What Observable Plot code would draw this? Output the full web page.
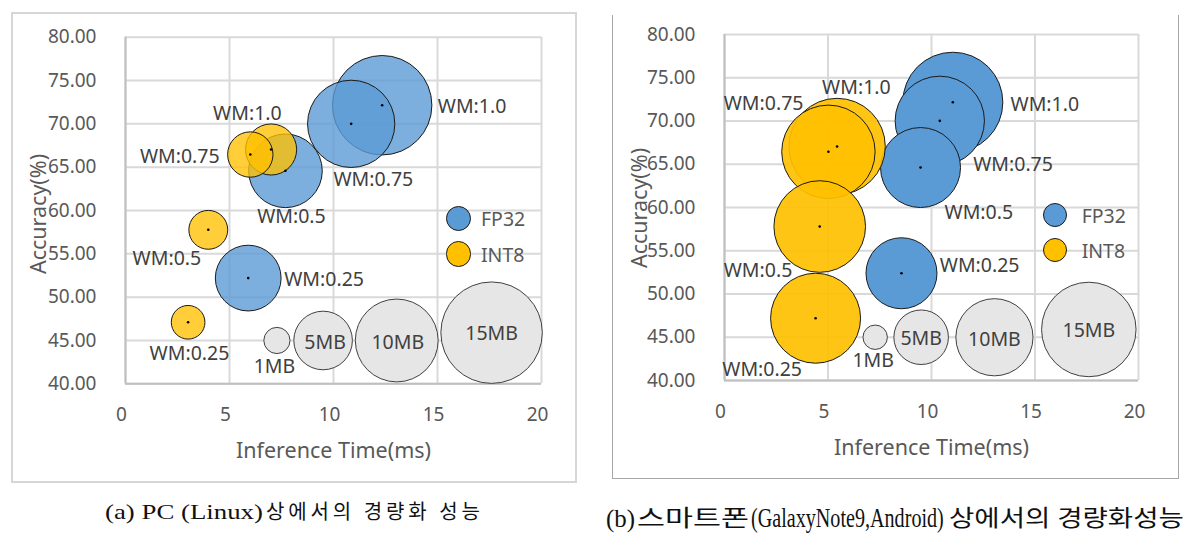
<!DOCTYPE html>
<html><head><meta charset="utf-8">
<script src="https://cdn.jsdelivr.net/npm/d3@7"></script>
<script src="https://cdn.jsdelivr.net/npm/@observablehq/plot@0.6"></script>
<style>
html,body{margin:0;padding:0;background:#fff;}
#wrap{position:relative;width:1194px;height:538px;overflow:hidden;font-family:"Noto Sans",sans-serif;}
.abs{position:absolute;}
.box{position:absolute;box-sizing:border-box;}
.leg{position:absolute;display:flex;align-items:center;font-size:19.5px;color:#595959;white-space:nowrap;}
.leg span.c{display:inline-block;border-radius:50%;box-sizing:border-box;border:1px solid #1a1a1a;}
</style></head><body><div id="wrap"></div>
<script>
// ---------- data ----------
const variants = ["WM:1.0", "WM:0.75", "WM:0.5", "WM:0.25"];
// (a) PC (Linux)
const pcFp32Time = [12.34, 10.85, 7.69, 5.90];
const pcFp32Acc  = [72.15, 70.00, 64.58, 52.20];
const pcFp32Size = [14.4, 11.1, 7.9, 6.3];
const pcInt8Time = [7.00, 6.00, 3.98, 3.01];
const pcInt8Acc  = [67.04, 66.46, 57.77, 47.10];
const pcInt8Size = [3.8, 3.0, 2.2, 1.65];
// (b) Smartphone (GalaxyNote9, Android)
const phoneFp32Time = [11.03, 10.40, 9.47, 8.55];
const phoneFp32Acc  = [72.17, 70.02, 64.62, 52.40];
const phoneFp32Size = [16.8, 13.4, 10.75, 8.47];
const phoneInt8Time = [5.44, 5.02, 4.60, 4.40];
const phoneInt8Acc  = [67.05, 66.44, 57.80, 47.20];
const phoneInt8Size = [15.6, 14.65, 14.1, 13.6];
// size reference bubbles
const refLabels = ["1MB", "5MB", "10MB", "15MB"];
const refTime   = [7.28, 9.50, 13.04, 17.60];
const refAcc    = [45, 45, 45, 45.9];
const refSize   = [1, 5, 10, 15];
// axes
const xTicks = [0, 5, 10, 15, 20];
const yTicks = [40, 45, 50, 55, 60, 65, 70, 75, 80];
const seriesNames = ["FP32", "INT8"];
const xTitle = "Inference Time(ms)";
const yTitle = "Accuracy(%)";
const captionParts = [
  ["(a) PC (Linux)", "상에서의  경량화  성능"],
  ["(b)", "스마트폰", "(GalaxyNote9,Android)", "상에서의  경량화성능"]
];

// ---------- layout / style ----------
const BLUE = "#5B9BD5", GOLD = "#FFC000", GREY = "#E7E6E6";
const layouts = [
  {left: 0, mL: 125, mR: 49, mT: 36.7, mB: 106.7, k: 13.1, blueOp: 0.8, goldOp: 0.78,
   fpOff: [[55.6, 2], [-17.7, 56], [-28.3, 46], [36, 2]],
   inOff: [[-58, -35.7], [-110.4, 2.7], [-75.7, 28.6], [-38.5, 31.8]],
   refOff: [[-2.5, 26.7], [2, 2], [1, 2], [0, 1]],
   yTitle: {x: 38.5, y: 214},
   box: {left: 11, top: 12, width: 566, height: 471, border: "2.5px solid #d6d6d6"},
   legend: {x: 458.7, y: [218.3, 254], r: 12.7, tx: 481},
   caption: {y: 512, size: [20, 20], spans: [[105, 263, "scale"], [266, 480, "spacing"]]}},
  {left: 600, mL: 124, mR: 52, mT: 34, mB: 110, k: 12.2, blueOp: 1, goldOp: 0.92,
   fpOff: [[57.7, 2.3], [33.4, 43.7], [24, 45.7], [38.3, -7.7]],
   inOff: [[-15, -59], [-104.7, -48], [-96, 44.7], [-93.3, 51.6]],
   refOff: [[-2, 23.3], [0, 1.6], [0, 2], [0, 1]],
   yTitle: {x: 639, y: 208},
   box: {left: 612, top: 15, width: 567, height: 464, border: "1.5px solid #a6a6a6", noTop: true},
   legend: {x: 1055, y: [215.3, 250], r: 12.2, tx: 1081.7},
   caption: {y: 518, size: [26, 23, 27, 23], spans: [[606, 635, "scale"], [637, 749, "scale"], [751, 944, "scale"], [949, 1184, "scale"]]}}
];
const sets = [
  {fpT: pcFp32Time, fpA: pcFp32Acc, fpS: pcFp32Size, inT: pcInt8Time, inA: pcInt8Acc, inS: pcInt8Size},
  {fpT: phoneFp32Time, fpA: phoneFp32Acc, fpS: phoneFp32Size, inT: phoneInt8Time, inA: phoneInt8Acc, inS: phoneInt8Size}
];

const wrap = document.getElementById("wrap");
const W = 590, H = 490;

layouts.forEach((L, p) => {
  const S = sets[p];
  const box = document.createElement("div");
  box.className = "box";
  Object.assign(box.style, {left: L.box.left + "px", top: L.box.top + "px", width: L.box.width + "px", height: L.box.height + "px", border: L.box.border});
  if (L.box.noTop) box.style.borderTop = "none";
  wrap.appendChild(box);

  const fp = variants.map((v, i) => ({t: S.fpT[i], a: S.fpA[i], s: S.fpS[i], label: v}));
  const int8 = variants.map((v, i) => ({t: S.inT[i], a: S.inA[i], s: S.inS[i], label: v}));
  const ref = refLabels.map((v, i) => ({t: refTime[i], a: refAcc[i], s: refSize[i], label: v}));
  const txt = {fontSize: 19.5, fontFamily: "Noto Sans", fill: "#404040"};

  const marks = [
    Plot.ruleX(xTicks, {stroke: "#d9d9d9", strokeWidth: 2}),
    Plot.ruleY(yTicks, {stroke: "#d9d9d9", strokeWidth: 2}),
    Plot.ruleX([0], {stroke: "#bfbfbf", strokeWidth: 2}),
    Plot.ruleY([40], {stroke: "#bfbfbf", strokeWidth: 2}),
    Plot.axisY(yTicks, {tickSize: 0, tickPadding: 29, tickFormat: d => d.toFixed(2), fontSize: 19, color: "#595959", label: null}),
    Plot.axisX(xTicks, {tickSize: 0, tickPadding: 24, dx: -4, fontSize: 19, color: "#595959", label: null}),
    Plot.text([xTitle], {frameAnchor: "bottom", dy: 74, fontSize: 21.5, fontFamily: "Noto Sans", fill: "#595959"}),
    Plot.dot(ref, {x: "t", y: "a", r: "s", fill: GREY, stroke: "#404040", strokeWidth: 1}),
    Plot.dot(fp, {x: "t", y: "a", r: "s", fill: BLUE, fillOpacity: L.blueOp, stroke: "#1a1a1a", strokeWidth: 1}),
    Plot.dot(int8, {x: "t", y: "a", r: "s", fill: GOLD, fillOpacity: L.goldOp, stroke: "#1a1a1a", strokeWidth: 1}),
    Plot.dot(fp.concat(int8), {x: "t", y: "a", r: 1.3, fill: "#000"}),
    ...fp.map((d, i) => Plot.text([d], {x: "t", y: "a", text: "label", textAnchor: "start", dx: L.fpOff[i][0], dy: L.fpOff[i][1], ...txt})),
    ...int8.map((d, i) => Plot.text([d], {x: "t", y: "a", text: "label", textAnchor: "start", dx: L.inOff[i][0], dy: L.inOff[i][1], ...txt})),
    ...ref.map((d, i) => Plot.text([d], {x: "t", y: "a", text: "label", textAnchor: "middle", dx: L.refOff[i][0], dy: L.refOff[i][1], ...txt}))
  ];

  const chart = Plot.plot({
    width: W, height: H,
    marginLeft: L.mL, marginRight: L.mR, marginTop: L.mT, marginBottom: L.mB,
    x: {domain: [0, 20]},
    y: {domain: [40, 80]},
    r: {type: "sqrt", domain: [0, 15], range: [0, L.k * Math.sqrt(15)]},
    style: {background: "transparent", overflow: "visible", fontFamily: "Noto Sans"},
    marks
  });
  chart.classList.add("abs");
  chart.style.left = L.left + "px";
  chart.style.top = "0px";
  wrap.appendChild(chart);

  seriesNames.forEach((name, j) => {
    const lg = document.createElement("div");
    lg.className = "leg";
    const d = 2 * L.legend.r;
    lg.style.left = (L.legend.x - L.legend.r) + "px";
    lg.style.top = (L.legend.y[j] - 14) + "px";
    lg.style.height = "28px";
    const c = document.createElement("span");
    c.className = "c";
    c.style.width = d + "px"; c.style.height = d + "px";
    c.style.background = j === 0 ? BLUE : GOLD;
    const t = document.createElement("span");
    t.textContent = name;
    t.style.marginLeft = (L.legend.tx - L.legend.x - L.legend.r) + "px";
    lg.appendChild(c); lg.appendChild(t);
    wrap.appendChild(lg);
  });
});

// overlay: y-axis titles and captions
const ov = d3.create("svg").attr("width", 1194).attr("height", 538)
  .style("position", "absolute").style("left", 0).style("top", 0).style("pointer-events", "none");
wrap.appendChild(ov.node());
layouts.forEach((L, p) => {
  ov.append("text")
    .attr("transform", `translate(${L.yTitle.x},${L.yTitle.y}) rotate(-90)`)
    .attr("text-anchor", "middle").attr("dy", "0.35em")
    .attr("font-family", "Noto Sans").attr("font-size", 21.5).attr("fill", "#595959")
    .text(yTitle);
  captionParts[p].forEach((part, j) => {
    const [x0, x1, adj] = L.caption.spans[j];
    const t = ov.append("text")
      .attr("dy", "0.35em")
      .attr("font-family", "'Liberation Serif', 'Noto Sans CJK KR', serif")
      .attr("font-size", L.caption.size[j]).attr("fill", "#111")
      .text(part);
    if (adj === "spacing") {
      t.attr("x", x0).attr("y", L.caption.y).attr("textLength", x1 - x0).attr("lengthAdjust", "spacing");
    } else {
      const w = t.node().getComputedTextLength() || (x1 - x0);
      t.attr("transform", `translate(${x0},${L.caption.y}) scale(${(x1 - x0) / w},1)`);
    }
  });
});
</script>
</body></html>
